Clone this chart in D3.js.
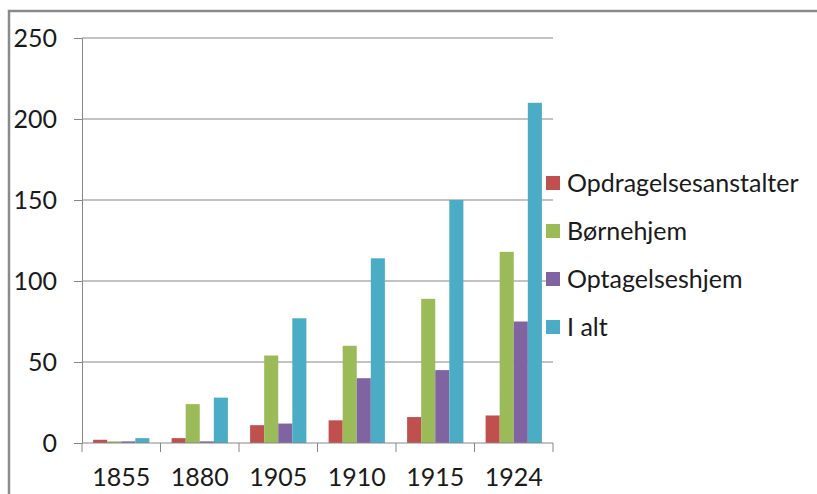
<!DOCTYPE html>
<html>
<head>
<meta charset="utf-8">
<script src="https://cdn.jsdelivr.net/npm/d3@7"></script>
<style>
  body { margin: 0; background: #fff; }
  text { font-family: Lato, "Open Sans", sans-serif; fill: #1a1a1a; }
</style>
</head>
<body>
<div id="chart"></div>
<script>
const years = ["1855", "1880", "1905", "1910", "1915", "1924"];
const series = ["Opdragelsesanstalter", "Børnehjem", "Optagelseshjem", "I alt"];
const colors = ["#c0504d", "#9bbb59", "#8064a2", "#4bacc6"];
const opdragelse = [2, 3, 11, 14, 16, 17];
const bornehjem = [1, 24, 54, 60, 89, 118];
const optagelse = [1, 1, 12, 40, 45, 75];
const ialt = [3, 28, 77, 114, 150, 210];
const yTicks = [0, 50, 100, 150, 200, 250];

const values = [opdragelse, bornehjem, optagelse, ialt];

const W = 817, H = 494;
const svg = d3.select("#chart").append("svg")
  .attr("width", W)
  .attr("height", H);

// frame (only top and left edges visible)
svg.append("path")
  .attr("fill", "none")
  .attr("stroke", "#8a8a8a")
  .attr("stroke-width", 2.5)
  .attr("d", "M 9,494 L 9,11 L 817,11");

const x = d3.scaleBand().domain(years).range([82, 553]);
const xi = d3.scaleBand().domain(series).range([0, x.bandwidth()]).paddingOuter(0.79);
const y = d3.scaleLinear().domain([0, 250]).range([443, 38]);

// gridlines
svg.append("g").selectAll("line")
  .data(yTicks.filter(d => d > 0))
  .join("line")
  .attr("x1", 82).attr("x2", 553)
  .attr("y1", d => y(d)).attr("y2", d => y(d))
  .attr("stroke", "#878787");

// y axis
const yAxis = svg.append("g")
  .attr("transform", "translate(82,0)")
  .call(d3.axisLeft(y).tickValues(yTicks).tickSize(8).tickPadding(17));
yAxis.select(".domain").attr("stroke", "#878787");
yAxis.selectAll(".tick line").attr("stroke", "#878787");
yAxis.selectAll("text").style("font-size", "25px").attr("fill", "#1a1a1a");

// bars
years.forEach((yr, i) => {
  svg.append("g").selectAll("rect")
    .data(series)
    .join("rect")
    .attr("x", s => x(yr) + xi(s))
    .attr("width", xi.bandwidth())
    .attr("y", (s, j) => y(values[j][i]))
    .attr("height", (s, j) => y(0) - y(values[j][i]))
    .attr("fill", (s, j) => colors[j]);
});

// x axis
const bounds = years.map(d => x(d)).concat([x.range()[1]]);
svg.append("line")
  .attr("x1", 82).attr("x2", 553)
  .attr("y1", y(0)).attr("y2", y(0))
  .attr("stroke", "#878787");
svg.append("g").selectAll("line")
  .data(bounds)
  .join("line")
  .attr("x1", d => d).attr("x2", d => d)
  .attr("y1", y(0)).attr("y2", y(0) + 9)
  .attr("stroke", "#878787");
svg.append("g").selectAll("text")
  .data(years)
  .join("text")
  .attr("x", d => x(d) + x.bandwidth() / 2)
  .attr("y", 486)
  .attr("text-anchor", "middle")
  .style("font-size", "25px")
  .text(d => d);

// legend
const legend = svg.append("g").selectAll("g")
  .data(series)
  .join("g")
  .attr("transform", (d, i) => "translate(546," + (183 + i * 48) + ")");
legend.append("rect")
  .attr("x", 0).attr("y", -7)
  .attr("width", 14).attr("height", 14)
  .attr("fill", (d, i) => colors[i]);
legend.append("text")
  .attr("x", 21)
  .attr("dy", "0.35em")
  .style("font-size", "25px")
  .text(d => d);
</script>
</body>
</html>
